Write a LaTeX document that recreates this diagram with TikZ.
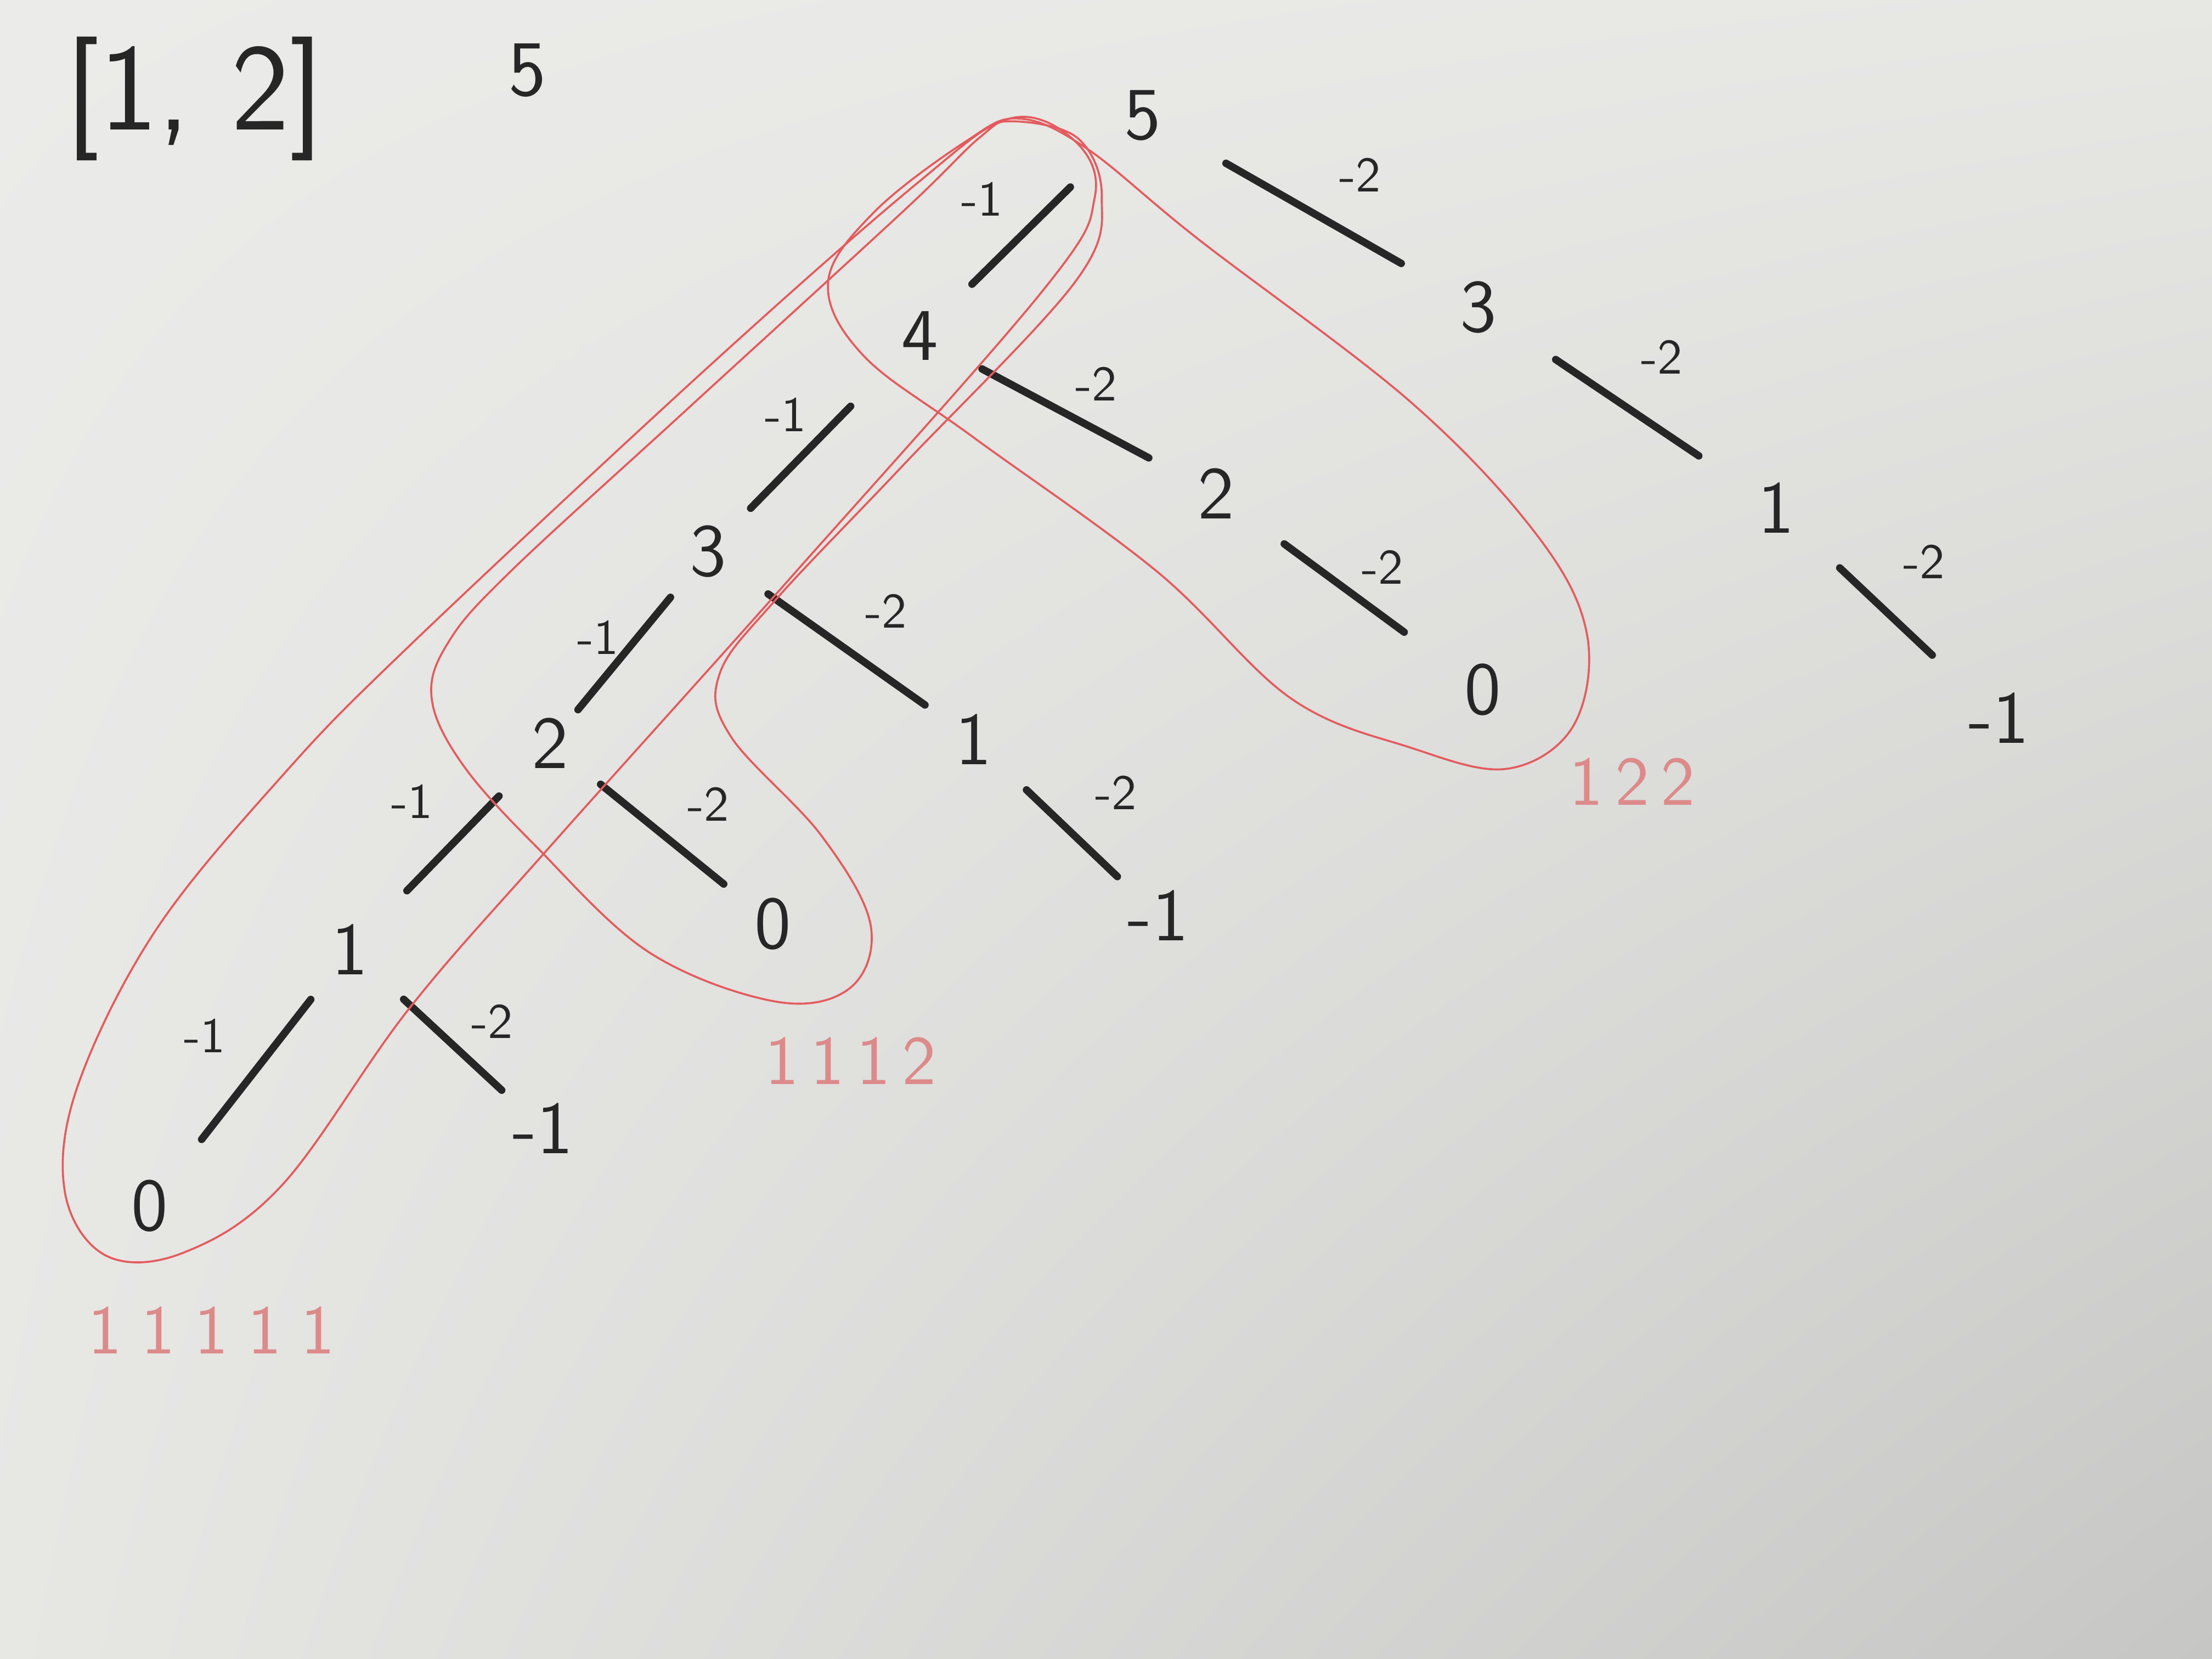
\documentclass[tikz,border=0pt]{standalone}
\usepackage{tikz}
\usepackage{xcolor}
\usetikzlibrary{shadings}
\definecolor{paperhi}{HTML}{EBEBE9}
\definecolor{paperlo}{HTML}{C6C6C4}
\definecolor{paperlt}{HTML}{E7E7E4}
\definecolor{ink}{HTML}{262626}
\definecolor{hoopred}{HTML}{E35B5E}
\definecolor{hooptext}{HTML}{DC8A8A}
\tikzset{
  treenum/.style={font=\sffamily\fontsize{15}{17}\selectfont,text=ink,inner sep=1pt},
  wlabel/.style={font=\sffamily\fontsize{10}{11}\selectfont,text=ink,inner sep=1pt},
  branch/.style={draw=ink,line width=1.5pt,line cap=round},
  hoop/.style={draw=hoopred,line width=0.4pt},
  hooplabel/.style={font=\sffamily\fontsize{14}{16}\selectfont,text=hooptext,inner sep=1pt}
}

\begin{document}
\begin{tikzpicture}[x=0.01cm,y=-0.01cm]
  % paper
  \shade[upper left=paperhi,upper right=paperlt,lower left=paperlt,lower right=paperlo]
    (0,0) rectangle (1568,1176);
  \useasboundingbox (0,0) rectangle (1568,1176);

  % header
  \node[treenum,font=\sffamily\fontsize{25}{27}\selectfont] (rng) at (138,70) {[1,\,\,2]};
  \node[treenum,font=\sffamily\fontsize{16}{18}\selectfont] (tgt) at (374,50) {5};

  % tree
  \node[treenum] (r5) at (810,82) {5};
  \node[treenum] (a4) at (652,238) {4};
  \node[treenum] (a3) at (502,391) {3};
  \node[treenum] (a2) at (390,527) {2};
  \node[treenum] (a1) at (248,673) {1};
  \node[treenum] (a0) at (106,855) {0};
  \node[treenum] (b3) at (1048,218) {3};
  \node[treenum] (b1) at (1259,360) {1};
  \node[treenum] (bm) at (1417,509) {-1};
  \node[treenum] (c2) at (862,350) {2};
  \node[treenum] (c0) at (1051,489) {0};
  \node[treenum] (d1) at (690,524) {1};
  \node[treenum] (dm) at (821,649) {-1};
  \node[treenum] (e0) at (548,655) {0};
  \node[treenum] (fm) at (385,800) {-1};

  \foreach \p/\c/\s/\t in {r5/a4/0.72cm/0.52cm,a4/a3/0.70cm/0.43cm,a3/a2/0.42cm/0.31cm,
      a2/a1/0.52cm/0.58cm,a1/a0/0.45cm/0.60cm,r5/b3/0.68cm/0.63cm,b3/b1/0.66cm/0.66cm,
      b1/bm/0.62cm/0.65cm,a4/c2/0.50cm/0.54cm,c2/c0/0.60cm/0.69cm,a3/d1/0.52cm/0.42cm,
      d1/dm/0.52cm/0.40cm,a2/e0/0.46cm/0.45cm,a1/fm/0.52cm/0.40cm} {
    \draw[branch,shorten <=\s,shorten >=\t] (\p.center) -- (\c.center);
  }

  % weights
  \foreach \n/\x/\y in {w54/696/141,w43/557/294,w32/424/452,w21/292/568,w10/145/734} {
    \node[wlabel] (\n) at (\x,\y) {-1};
  }
  \foreach \n/\x/\y in {w53/964/124,w31/1178/253,w1m/1364/398,w42/777/272,w20/980/402,
      w3a/628/433,w1b/791/562,w2e/502/570,w1f/349/724} {
    \node[wlabel] (\n) at (\x,\y) {-2};
  }

  % hoops
  \draw[hoop] plot[smooth cycle,tension=0.6] coordinates {
    (716,84) (762,100) (776,140) (740,205) (560,410) (390,600) (290,715) (200,840)
    (130,888) (75,890) (46,845) (55,770) (110,660) (200,550) (290,458) (500,262) (650,130)};
  \draw[hoop] plot[smooth cycle,tension=0.6] coordinates {
    (718,86) (764,98) (781,140) (762,200) (640,330) (550,425) (510,478) (518,522)
    (582,592) (617,655) (603,700) (550,710) (460,675) (380,600) (328,542) (306,495)
    (318,455) (362,405) (485,292) (640,150) (695,97)};
  \draw[hoop] plot[smooth cycle,tension=0.6] coordinates {
    (722,84) (770,105) (850,170) (1000,285) (1090,380) (1125,450) (1115,515) (1068,545)
    (1000,530) (915,495) (820,405) (690,310) (612,252) (587,200) (620,150) (685,100)};

  \node[hooplabel] (h5) at (150,943) {1\;1\;1\;1\;1};
  \node[hooplabel] (h4) at (603,752) {1\,1\,1\,2};
  \node[hooplabel] (h3) at (1157,554) {1\,2\,2};
\end{tikzpicture}
\end{document}
